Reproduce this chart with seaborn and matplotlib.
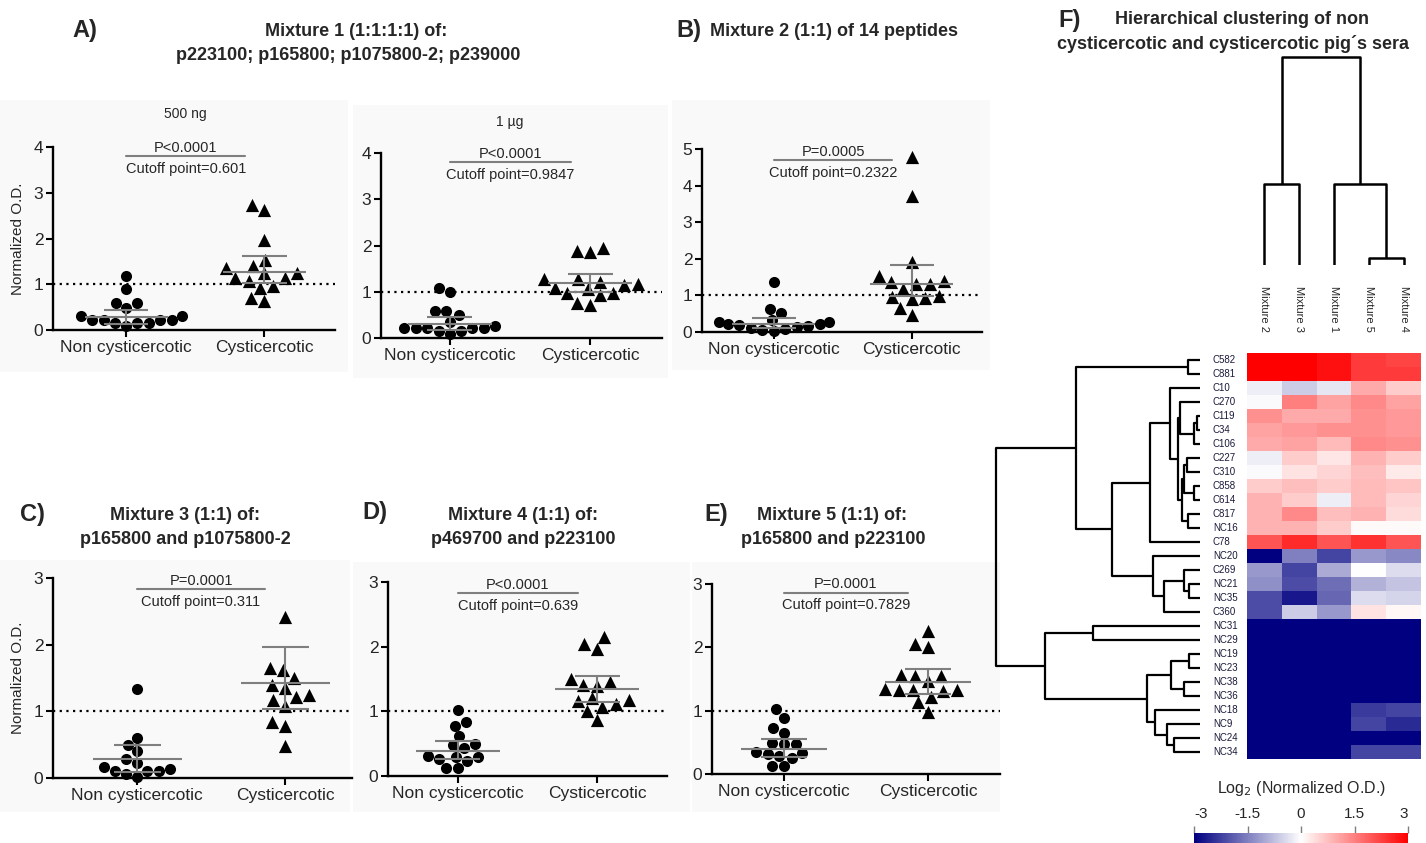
import numpy as np
import pandas as pd
import matplotlib
matplotlib.use("Agg")
import matplotlib.pyplot as plt
import seaborn as sns
from matplotlib.colors import LinearSegmentedColormap, Normalize
from matplotlib.cm import ScalarMappable
from matplotlib.patches import Rectangle

# ---------------------------------------------------------------- data
GROUPS = ["Non cysticercotic", "Cysticercotic"]

# Panel A (500 ng)
A1_NON = [1.18, 0.90, 0.58, 0.48, 0.58, 0.30, 0.21, 0.21, 0.15, 0.08, 0.15, 0.15, 0.21, 0.21, 0.31]
A1_CYS = [2.62, 2.73, 1.96, 1.53, 1.35, 1.40, 1.24, 1.13, 1.08, 1.14, 1.24, 0.91, 0.96, 0.64, 0.69]
A1_MID = [0.29, 1.27]
A1_LOW = [0.14, 1.03]
A1_HIGH = [0.44, 1.62]
# Panel A (1 ug)
A2_NON = [0.99, 1.08, 0.58, 0.49, 0.58, 0.27, 0.21, 0.21, 0.15, 0.08, 0.15, 0.21, 0.21, 0.21, 0.35]
A2_CYS = [1.95, 1.85, 1.88, 1.27, 1.17, 1.09, 1.07, 1.14, 1.21, 1.28, 0.97, 0.92, 0.97, 0.71, 0.76]
A2_MID = [0.31, 1.19]
A2_LOW = [0.18, 0.99]
A2_HIGH = [0.45, 1.39]
# Panel B
B_NON = [1.36, 0.64, 0.52, 0.33, 0.27, 0.22, 0.18, 0.15, 0.06, 0.03, 0.07, 0.12, 0.16, 0.21, 0.28]
B_CYS = [4.78, 3.71, 1.91, 1.52, 1.36, 1.32, 1.31, 1.38, 1.18, 0.96, 0.93, 0.90, 0.97, 0.66, 0.47]
B_MID = [0.22, 1.32]
B_LOW = [0.10, 0.97]
B_HIGH = [0.37, 1.82]
# Panel C
C_NON = [1.34, 0.60, 0.50, 0.41, 0.28, 0.16, 0.10, 0.10, 0.01, 0.06, 0.10, 0.14, 0.23]
C_CYS = [2.41, 1.62, 1.65, 1.50, 1.39, 1.35, 1.21, 1.25, 1.17, 1.08, 0.84, 0.78, 0.48]
C_MID = [0.28, 1.42]
C_LOW = [0.09, 1.04]
C_HIGH = [0.49, 1.96]
# Panel D
D_NON = [1.02, 0.84, 0.78, 0.62, 0.48, 0.43, 0.49, 0.31, 0.30, 0.23, 0.13, 0.13, 0.27, 0.30]
D_CYS = [2.15, 2.04, 1.97, 1.50, 1.45, 1.41, 1.39, 1.20, 1.16, 1.18, 1.11, 1.06, 1.00, 0.87]
D_MID = [0.39, 1.34]
D_LOW = [0.26, 1.15]
D_HIGH = [0.54, 1.54]
# Panel E
E_NON = [1.02, 0.89, 0.72, 0.65, 0.48, 0.47, 0.49, 0.34, 0.31, 0.25, 0.12, 0.13, 0.28, 0.33]
E_CYS = [2.26, 2.05, 2.00, 1.56, 1.55, 1.55, 1.47, 1.33, 1.32, 1.31, 1.32, 1.34, 1.22, 1.13, 0.98]
E_MID = [0.39, 1.46]
E_LOW = [0.27, 1.27]
E_HIGH = [0.56, 1.66]

P_TEXTS = ["P<0.0001", "P<0.0001", "P=0.0005", "P=0.0001", "P<0.0001", "P=0.0001"]
CUTOFF_TEXTS = ["Cutoff point=0.601", "Cutoff point=0.9847", "Cutoff point=0.2322",
                "Cutoff point=0.311", "Cutoff point=0.639", "Cutoff point=0.7829"]

# Heatmap (log2 normalized O.D.)
HM_COLS = ["Mixture 2", "Mixture 3", "Mixture 1", "Mixture 5", "Mixture 4"]
HM_ROWS = ["C582", "C881", "C10", "C270", "C119", "C34", "C106", "C227", "C310", "C858",
           "C614", "C817", "NC16", "C78", "NC20", "C269", "NC21", "NC35", "C360", "NC31",
           "NC29", "NC19", "NC23", "NC38", "NC36", "NC18", "NC9", "NC24", "NC34"]
HM_VALUES = [
    [3.0, 3.0, 2.8, 2.3, 2.2],
    [3.0, 3.0, 2.8, 2.3, 2.3],
    [-0.2, -0.6, -0.3, 1.0, 0.6],
    [-0.05, 1.5, 1.1, 1.4, 1.1],
    [1.3, 1.0, 1.0, 1.3, 1.2],
    [1.1, 1.2, 1.3, 1.3, 1.2],
    [1.0, 1.1, 0.8, 1.4, 1.3],
    [-0.2, 0.6, 0.3, 0.9, 0.6],
    [-0.05, 0.35, 0.5, 0.75, 0.25],
    [0.6, 0.75, 0.6, 0.8, 0.7],
    [0.9, 0.6, -0.2, 0.8, 0.5],
    [0.9, 1.4, 0.75, 0.9, 0.4],
    [0.9, 0.9, 0.6, 0.05, 0.05],
    [2.0, 2.5, 2.0, 2.4, 2.0],
    [-3.0, -1.5, -2.2, -1.2, -1.4],
    [-1.2, -2.2, -1.0, 0.0, -0.4],
    [-1.3, -2.1, -1.7, -0.9, -0.7],
    [-2.1, -2.7, -1.8, -0.4, -0.5],
    [-2.1, -0.6, -1.2, 0.35, 0.1],
    [-3.0, -3.0, -3.0, -3.0, -3.0],
    [-3.0, -3.0, -3.0, -3.0, -3.0],
    [-3.0, -3.0, -3.0, -3.0, -3.0],
    [-3.0, -3.0, -3.0, -3.0, -3.0],
    [-3.0, -3.0, -3.0, -3.0, -3.0],
    [-3.0, -3.0, -3.0, -3.0, -3.0],
    [-3.0, -3.0, -3.0, -2.3, -2.2],
    [-3.0, -3.0, -3.0, -2.2, -2.5],
    [-3.0, -3.0, -3.0, -3.0, -3.0],
    [-3.0, -3.0, -3.0, -2.2, -2.2],
]
# dendrogram merges: (node a, node b, height); new node ids follow the leaves
ROW_MERGES = [
    (0, 1, 12), (4, 5, 3), (30, 6, 6), (3, 31, 20), (7, 8, 13), (9, 10, 6),
    (33, 34, 16), (11, 12, 12), (35, 36, 18), (32, 37, 22), (2, 38, 30),
    (39, 13, 50), (16, 17, 11), (15, 41, 16), (42, 18, 36), (14, 43, 47),
    (40, 44, 88), (29, 45, 124), (19, 20, 107), (21, 22, 11), (23, 24, 16),
    (48, 49, 29), (27, 28, 26), (26, 51, 33), (25, 52, 45), (50, 53, 53),
    (47, 54, 155), (46, 55, 204),
]
COL_MERGES = [(3, 4, 7), (0, 1, 81), (2, 5, 81), (6, 7, 208)]

# ---------------------------------------------------------------- style
sns.set_style("white")
plt.rcParams["font.family"] = ["Liberation Sans", "DejaVu Sans"]
W, H = 1426, 843
fig = plt.figure(figsize=(W / 100, H / 100), dpi=100)
GRAY = "#7f7f7f"


def px_axes(x1, y_top, x2, y_bot):
    return fig.add_axes([x1 / W, 1 - y_bot / H, (x2 - x1) / W, (y_bot - y_top) / H])


def ftext(x, y, s, **kw):
    fig.text(x / W, 1 - y / H, s, **kw)


# faint panel backgrounds
for (x1, y1, x2, y2) in [(0, 100, 348, 372), (353, 105, 668, 378), (672, 100, 990, 370),
                         (0, 560, 350, 812), (353, 562, 690, 812), (692, 562, 1000, 812)]:
    fig.patches.append(Rectangle((x1 / W, 1 - y2 / H), (x2 - x1) / W, (y2 - y1) / H,
                                 transform=fig.transFigure, facecolor="#f9f9f9",
                                 edgecolor="none", zorder=-10))


def draw_scatter(ax, non, cys, mid, low, high, ymax, ptxt, ctxt, bar_y, xlim, ylabel):
    ax.set_facecolor("none")
    d_non = pd.DataFrame({"group": GROUPS[0], "od": non})
    d_cys = pd.DataFrame({"group": GROUPS[1], "od": cys})
    sns.swarmplot(data=d_non, x="group", y="od", order=GROUPS, color="black",
                  marker="o", size=8, ax=ax, zorder=2)
    sns.swarmplot(data=d_cys, x="group", y="od", order=GROUPS, color="black",
                  marker="^", size=9.5, ax=ax, zorder=2)
    for c in ax.collections:
        c.set_clip_on(False)
    ax.set_xlim(*xlim)
    ax.set_ylim(0, ymax)
    ax.axhline(1, ls=(0, (1, 2)), color="black", lw=1.6, zorder=1)
    for i in range(2):
        ax.hlines(mid[i], i - 0.3, i + 0.3, color=GRAY, lw=1.5, zorder=3)
        ax.hlines([low[i], high[i]], i - 0.16, i + 0.16, color=GRAY, lw=1.5, zorder=3)
        ax.vlines(i, low[i], high[i], color=GRAY, lw=1.5, zorder=3)
    ax.plot([0, 0.86], [bar_y, bar_y], color=GRAY, lw=1.5, clip_on=False)
    ax.annotate(ptxt, (0.43, bar_y), xytext=(0, 1), textcoords="offset points",
                ha="center", va="bottom", fontsize=10.5, annotation_clip=False)
    ax.annotate(ctxt, (0.43, bar_y), xytext=(0, -4), textcoords="offset points",
                ha="center", va="top", fontsize=10.5, annotation_clip=False)
    ax.set_yticks(range(0, ymax + 1))
    sns.despine(ax=ax)
    for s in ("left", "bottom"):
        ax.spines[s].set_linewidth(1.7)
        ax.spines[s].set_color("black")
    ax.tick_params(axis="both", which="major", length=5, width=1.5, labelsize=12.5,
                   color="black", left=True, bottom=True, pad=2)
    ax.set_xlabel("")
    ax.set_ylabel(ylabel, fontsize=11, labelpad=6)


panels = [
    ((53, 147, 335, 330), A1_NON, A1_CYS, A1_MID, A1_LOW, A1_HIGH, 4, 3.80, (-0.53, 1.51), "Normalized O.D."),
    ((381, 153, 662, 338), A2_NON, A2_CYS, A2_MID, A2_LOW, A2_HIGH, 4, 3.80, (-0.49, 1.51), ""),
    ((702, 149, 982, 332), B_NON, B_CYS, B_MID, B_LOW, B_HIGH, 5, 4.70, (-0.52, 1.51), ""),
    ((53, 578, 352, 778), C_NON, C_CYS, C_MID, C_LOW, C_HIGH, 3, 2.83, (-0.57, 1.45), "Normalized O.D."),
    ((388, 582, 667, 776), D_NON, D_CYS, D_MID, D_LOW, D_HIGH, 3, 2.83, (-0.50, 1.50), ""),
    ((712, 584, 1000, 774), E_NON, E_CYS, E_MID, E_LOW, E_HIGH, 3, 2.86, (-0.50, 1.50), ""),
]
for k, (box, non, cys, mid, low, high, ymax, bar_y, xlim, ylab) in enumerate(panels):
    ax = px_axes(*box)
    draw_scatter(ax, non, cys, mid, low, high, ymax, P_TEXTS[k], CUTOFF_TEXTS[k], bar_y, xlim, ylab)

# ---------------------------------------------------------------- titles
bold = dict(ha="center", va="center", fontsize=13, fontweight="bold")
letter = dict(ha="center", va="center", fontsize=17, fontweight="bold")
ftext(85, 30, "A)", **letter)
ftext(356, 31, "Mixture 1 (1:1:1:1) of:", **bold)
ftext(348, 55, "p223100; p165800; p1075800-2; p239000", **bold)
ftext(185, 114, "500 ng", ha="center", va="center", fontsize=10)
ftext(510, 122, "1 µg", ha="center", va="center", fontsize=10)
ftext(689, 30, "B)", **letter)
ftext(834, 31, "Mixture 2 (1:1) of 14 peptides", **bold)
ftext(32, 515, "C)", **letter)
ftext(185, 516, "Mixture 3 (1:1) of:", **bold)
ftext(185, 540, "p165800 and p1075800-2", **bold)
ftext(375, 513, "D)", **letter)
ftext(523, 515, "Mixture 4 (1:1) of:", **bold)
ftext(523, 540, "p469700 and p223100", **bold)
ftext(716, 515, "E)", **letter)
ftext(832, 515, "Mixture 5 (1:1) of:", **bold)
ftext(833, 540, "p165800 and p223100", **bold)
ftext(1070, 20, "F)", **letter)
ftext(1242, 20, "Hierarchical clustering of non", **bold)
ftext(1233, 44, "cysticercotic and cysticercotic pig´s sera", **bold)

# ---------------------------------------------------------------- heatmap
cmap = LinearSegmentedColormap.from_list("nwr", ["#000080", "#ffffff", "#ff0000"])
hm_df = pd.DataFrame(HM_VALUES, index=HM_ROWS, columns=HM_COLS)
ax_hm = px_axes(1247, 353, 1421, 759)
sns.heatmap(hm_df, cmap=cmap, vmin=-3, vmax=3, cbar=False, ax=ax_hm,
            xticklabels=True, yticklabels=True)
ax_hm.xaxis.tick_top()
ax_hm.set_xticklabels(HM_COLS, rotation=270, fontsize=8, ha="center", va="bottom")
ax_hm.set_yticklabels(HM_ROWS, rotation=0, fontsize=7, ha="left", color="#1a1a3a")
ax_hm.tick_params(axis="x", length=0, pad=15)
ax_hm.tick_params(axis="y", length=0, pad=24.5)
ax_hm.set_xlabel("")
ax_hm.set_ylabel("")


def dendro_segments(merges, n_leaves):
    pos = {i: (i + 0.5, 0.0) for i in range(n_leaves)}
    segs = []
    for k, (a, b, h) in enumerate(merges):
        pa, ha = pos[a]
        pb, hb = pos[b]
        segs.append(([pa, pa, pb, pb], [ha, h, h, hb]))
        pos[n_leaves + k] = ((pa + pb) / 2, h)
    return segs


# row dendrogram (left of heatmap)
ax_rd = px_axes(990, 353, 1200, 759)
for p, h in dendro_segments(ROW_MERGES, len(HM_ROWS)):
    ax_rd.plot(h, p, color="black", lw=1.6, solid_capstyle="butt")
ax_rd.set_xlim(210, 0)
ax_rd.set_ylim(len(HM_ROWS), 0)
ax_rd.axis("off")

# column dendrogram (above heatmap)
ax_cd = px_axes(1247, 50, 1421, 265)
for p, h in dendro_segments(COL_MERGES, len(HM_COLS)):
    ax_cd.plot(p, h, color="black", lw=1.8, solid_capstyle="butt")
ax_cd.set_xlim(0, len(HM_COLS))
ax_cd.set_ylim(0, 215)
ax_cd.axis("off")

# colorbar
cax = px_axes(1194, 833, 1408, 846)
cb = fig.colorbar(ScalarMappable(norm=Normalize(-3, 3), cmap=cmap), cax=cax,
                  orientation="horizontal", ticks=[-3, -1.5, 0, 1.5, 3])
cb.outline.set_visible(False)
cax.xaxis.set_ticks_position("top")
cax.xaxis.set_label_position("top")
cax.set_xticklabels(["-3", "-1.5", "0", "1.5", "3"])
cax.tick_params(axis="x", length=5, width=1, color=GRAY, labelsize=11, pad=4)
tl = cax.get_xticklabels()
tl[0].set_ha("left")
tl[-1].set_ha("right")
cax.set_xlabel("Log$_2$ (Normalized O.D.)", fontsize=11.5, labelpad=10)

fig.savefig("out.png", dpi=100)
